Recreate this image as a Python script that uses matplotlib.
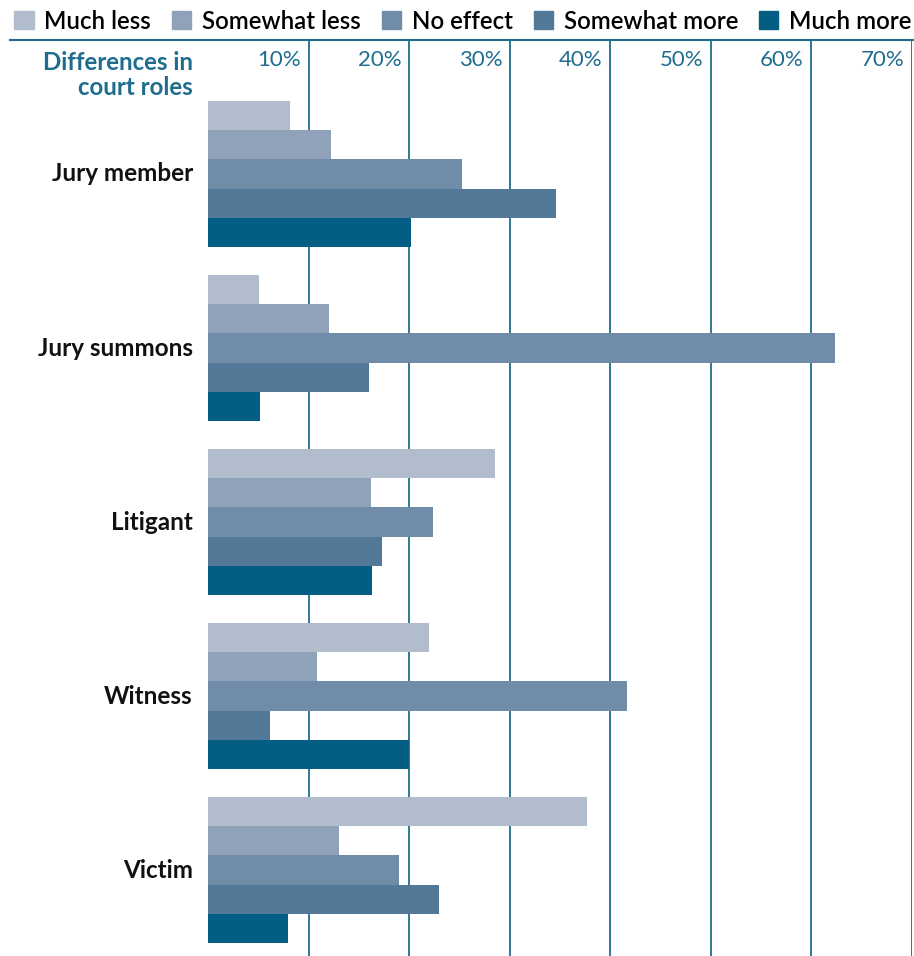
import numpy as np
import matplotlib
matplotlib.use('Agg')
from matplotlib import pyplot as plt
from matplotlib.patches import Patch

roles = ['Jury member', 'Jury summons', 'Litigant', 'Witness', 'Victim']
series = ['Much less', 'Somewhat less', 'No effect', 'Somewhat more', 'Much more']
much_less = [8.2, 5.1, 28.5, 22.0, 37.7]
somewhat_less = [12.2, 12.0, 16.2, 10.8, 13.0]
no_effect = [25.3, 62.3, 22.4, 41.7, 19.0]
somewhat_more = [34.6, 16.0, 17.3, 6.2, 23.0]
much_more = [20.2, 5.2, 16.3, 20.0, 8.0]
ticks = [10, 20, 30, 40, 50, 60, 70]

colors = ['#b1bccc', '#8fa2b9', '#718ca9', '#527998', '#045e83']
teal = '#1f6d8e'

plt.rcParams['font.family'] = ['Lato', 'DejaVu Sans']

fig = plt.figure(figsize=(9.14, 9.56), dpi=100)
ax = fig.add_axes([208/914, 0, 704/914, 916/956])

values = [much_less, somewhat_less, no_effect, somewhat_more, much_more]
y = np.arange(len(roles))
h = 0.168
for i, vals in enumerate(values):
    ax.barh(y - 2*h + i*h, vals, height=h, color=colors[i], zorder=3)

ax.set_xlim(0, 70)
ax.set_ylim(len(roles) - 1 + 0.494, -0.77)
for t in ticks:
    ax.axvline(t, color=teal, lw=1.3, zorder=1)
    ax.text(t - 0.75, -0.655, f'{t}%', ha='right', va='center', color=teal, fontsize=16)

ax.set_xticks([])
ax.set_yticks([])
for s in ax.spines.values():
    s.set_visible(False)

for yi, r in zip(y, roles):
    ax.text(-1.5, yi, r, ha='right', va='center', fontsize=17.5, fontweight='bold', color='#111111')
ax.text(-1.5, -0.57, 'Differences in\ncourt roles', ha='right', va='center', fontsize=17.3,
        fontweight='bold', color=teal, linespacing=1.08)

fig.add_artist(plt.Line2D([10/914, 1], [916/956, 916/956], color=teal, lw=1.5))

handles = [Patch(color=c) for c in colors]
fig.legend(handles, series, loc='upper left', bbox_to_anchor=(0.0, 1.005), ncol=5, frameon=False,
           prop={'size': 17.3, 'weight': 'semibold'}, handlelength=0.8, handleheight=0.8,
           handletextpad=0.45, columnspacing=0.87, borderaxespad=0.2)

fig.savefig('out.png', dpi=100)
